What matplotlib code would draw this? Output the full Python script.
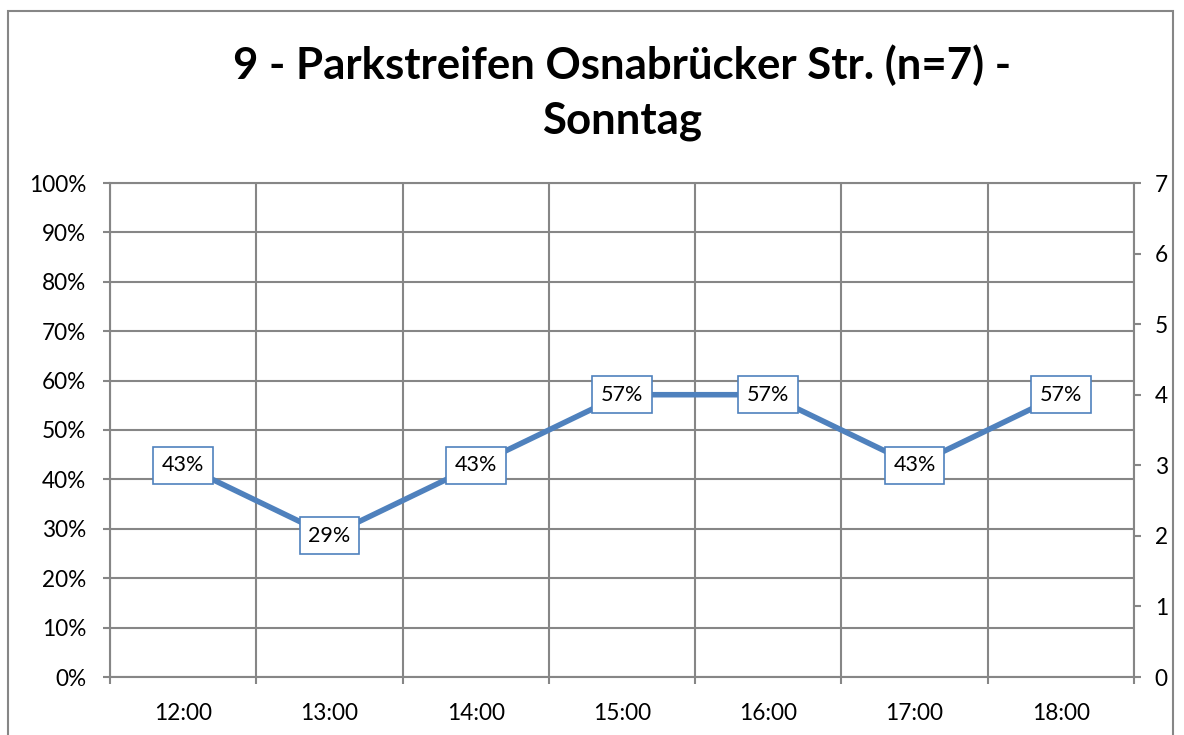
import matplotlib
matplotlib.use("Agg")
import matplotlib.pyplot as plt
from matplotlib.patches import Rectangle
from matplotlib.ticker import FixedLocator, FuncFormatter

categories = ["12:00", "13:00", "14:00", "15:00", "16:00", "17:00", "18:00"]
occupancy = [3/7, 2/7, 3/7, 4/7, 4/7, 3/7, 4/7]
value_labels = ["43%", "29%", "43%", "57%", "57%", "43%", "57%"]
title = "9 - Parkstreifen Osnabrücker Str. (n=7) -\nSonntag"

plt.rcParams['font.family'] = ['Lato', 'DejaVu Sans']
GRID = "#868686"
LINE = "#4F81BD"

fig = plt.figure(figsize=(11.84, 7.35), dpi=100)
fig.patch.set_facecolor("white")

# outer chart border
border = Rectangle((8/1184, -0.05), (1173-8)/1184, 1 - 11/735 + 0.05,
                   transform=fig.transFigure, fill=False,
                   edgecolor=GRID, linewidth=1.5, zorder=-1)
fig.add_artist(border)

left, right, top, bottom = 110, 1134, 183, 677
ax = fig.add_axes([left/1184, 1 - bottom/735, (right-left)/1184, (bottom-top)/735])

x = list(range(len(categories)))
ax.plot(x, occupancy, color=LINE, linewidth=4, solid_capstyle="round", zorder=3)
for xi, yi, lab in zip(x, occupancy, value_labels):
    ax.text(xi, yi, lab, ha="center", va="center", fontsize=15.5, zorder=4,
            bbox=dict(boxstyle="square,pad=0.4", facecolor="white",
                      edgecolor=LINE, linewidth=1.2))

ax.set_xlim(-0.5, len(categories) - 0.5)
ax.set_ylim(0, 1)
ax.xaxis.set_major_locator(FixedLocator(x))
ax.set_xticklabels(categories)
ax.xaxis.set_minor_locator(FixedLocator([i - 0.5 for i in range(len(categories) + 1)]))
ax.tick_params(axis="x", which="major", length=0, pad=19, labelsize=16.3)
ax.tick_params(axis="x", which="minor", length=5, width=1.5, color=GRID, direction="out")
ax.yaxis.set_major_locator(FixedLocator([i/10 for i in range(11)]))
ax.yaxis.set_major_formatter(FuncFormatter(lambda v, p: f"{round(v*100)}%"))
ax.tick_params(axis="y", length=5, width=1.5, color=GRID, direction="out", labelsize=16.3, pad=12)
ax.grid(True, which="minor", axis="x", color=GRID, linewidth=1.5)
ax.grid(True, which="major", axis="y", color=GRID, linewidth=1.5)
ax.set_axisbelow(True)
for s in ["left", "right", "top", "bottom"]:
    ax.spines[s].set_color(GRID)
    ax.spines[s].set_linewidth(1.5)

ax2 = ax.twinx()
ax2.set_ylim(0, 7)
ax2.yaxis.set_major_locator(FixedLocator(range(8)))
ax2.tick_params(axis="y", length=5, width=1.5, color=GRID, direction="out", labelsize=16.3, pad=10)
for s in ["left", "right", "top", "bottom"]:
    ax2.spines[s].set_visible(False)

fig.text(0.5 * (109 + 1135) / 1184, 1 - 93/735, title, ha="center", va="center",
         fontsize=31.5, fontweight="bold", linespacing=1.45)

fig.savefig("out.png", dpi=100, facecolor="white")
